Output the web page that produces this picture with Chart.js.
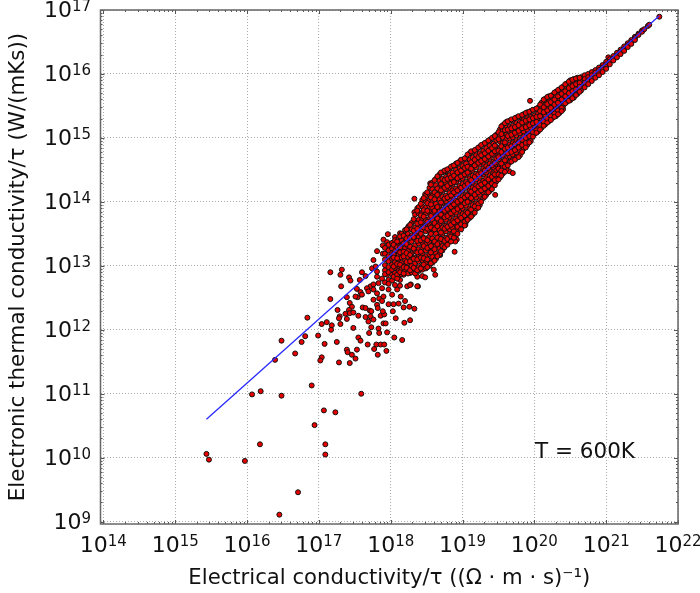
<!DOCTYPE html>
<html><head><meta charset="utf-8">
<style>html,body{margin:0;padding:0;background:#fff}canvas{display:block}</style>
<script src="https://cdn.jsdelivr.net/npm/chart.js@4"></script>
</head><body><canvas id="c" width="700" height="593"></canvas>
<script>
// All values are log10 of the plotted quantity.
const xTickExp=[14,15,16,17,18,19,20,21,22];
const yTickExp=[9,10,11,12,13,14,15,16,17];
const xTitle="Electrical conductivity/τ ((Ω · m · s)⁻¹)";
const yTitle="Electronic thermal conductivity/τ (W/(mKs))";
const note="T = 600K";
const fitLineSigmaExp=[15.435,21.74];
const fitLineKappaExp=[10.60,16.91];
// scattered points [sigma, kappa]
const sparsePoints=[
[15.435,10.06],[15.47,9.97],[15.97,9.95],[16.18,10.21],[16.07,10.99],[16.19,11.04],[16.48,10.97],[16.39,11.53],[16.67,11.63],[16.48,11.83],[16.76,11.81],[16.81,11.90],[16.84,12.19],[16.90,11.13],[17.07,10.74],[17.23,10.71],[16.94,10.51],[17.09,10.21],[17.09,10.05],[16.71,9.46],[16.45,9.11],[17.59,11.00],
[17.16,12.90],[17.32,12.94],[17.30,12.86],[17.42,12.82],[17.44,12.77],[17.60,12.90],[17.65,12.84],[17.57,12.78],[17.31,12.68],[17.16,12.48],[17.39,12.51],[17.43,12.42],[17.46,12.36],[17.42,12.31],[17.26,12.31],[17.29,12.21],[17.28,12.18],[17.37,12.25],[17.43,12.26],[17.39,12.17],[17.48,12.27],[17.55,12.22],[17.61,12.35],[17.65,12.34],[17.71,12.30],[17.65,12.20],[17.73,12.29],[17.72,12.21],[17.76,12.16],[17.69,12.13],[17.04,12.09],[17.11,12.12],[17.18,12.07],[17.17,12.00],[17.30,12.09],[17.48,12.03],[17.55,11.88],[17.58,11.83],[17.73,12.04],[17.70,11.95],[17.83,12.02],[17.84,11.95],[17.90,12.10],[17.93,12.10],[17.86,12.22],[17.91,12.24],[17.89,12.29],[18.03,12.29],[18.07,12.18],[18.19,12.11],[18.27,12.15],[17.95,11.96],[18.05,11.88],[18.16,11.84],[16.99,11.91],[17.08,11.78],[17.25,11.81],[17.68,11.77],[17.80,11.77],[17.86,11.77],[17.91,11.77],[17.77,11.70],[17.94,11.67],[17.53,11.69],[17.39,11.69],[17.40,11.65],[17.46,11.61],[17.51,11.55],[17.82,11.61],[17.04,11.57],[17.02,11.52],[17.28,11.49],[17.43,11.48],
[17.53,12.64],[17.58,12.59],[17.60,12.55],[17.54,12.51],[17.51,12.52],[17.72,12.68],[17.67,12.65],[17.76,12.71],[17.83,12.73],[17.69,12.60],[17.76,12.63],[17.88,12.65],[17.81,12.57],[17.84,12.49],[17.90,12.52],[17.97,12.63],[17.76,12.47],[17.88,12.45],[17.97,12.40],[18.04,12.40],[18.11,12.41],[17.81,12.39],[17.82,12.34],[18.18,12.35],[18.26,12.36],[18.33,12.33],[18.20,12.45],[18.14,12.52],[18.02,12.55],[18.09,12.63],[18.06,12.70],[18.23,12.68],[18.28,12.71],[18.38,12.68],[17.97,12.78],[17.88,12.80],[17.81,12.83],[17.74,12.96],[17.79,12.99],[17.76,13.09],[17.81,12.91],[17.95,12.86],[18.04,12.81],[18.13,12.78],[18.18,12.86],[18.27,12.89],[18.37,12.83],
[18.33,14.05],[17.96,13.495],[17.90,13.41],[17.95,13.37],[17.89,13.32],[17.97,13.25],[17.81,13.23],[17.89,13.19],[18.06,13.45],[18.13,13.51],[18.25,13.62],[18.37,13.90],[18.33,13.84],[18.48,14.12],[18.55,14.29],[18.89,13.22],[18.92,13.41],[18.90,13.38],[19.04,13.64],[18.69,13.17],[18.60,12.94],[18.62,12.86],[18.44,12.84],[18.48,12.82],[18.37,12.68],[18.27,12.70],[18.13,12.69],[19.455,14.11],[19.65,14.48],[19.70,14.45],[19.94,15.58],[18.90,14.57]
];
// dense band: one kappa list for each sigma column
const bandSigmaExp=[17.92,17.97,18.02,18.06,18.11,18.15,18.20,18.24,18.29,18.34,18.39,18.44,18.49,18.54,18.58,18.63,18.68,18.72,18.77,18.82,18.86,18.91,18.96,19.00,19.05,19.10,19.14,19.19,19.24,19.29,19.33,19.38,19.43,19.47,19.52,19.56,19.61,19.66,19.70,19.75,19.80,19.85,19.90,19.95,20.00,20.05,20.10,20.15,20.20,20.25,20.30,20.35,20.40,20.45,20.50,20.55,20.60,20.65,20.70,20.75,20.80,20.85,20.90,20.95,21.00,21.03,21.05,21.10,21.15,21.20,21.25,21.30,21.35,21.40,21.45,21.50,21.53,21.58,21.60,21.74];
const bandKappaExp=[
[13.28,13.19,13.10,13.01,12.93,12.87,12.74],
[13.33,13.24,13.15,13.07,12.98,12.9,12.72],
[13.36,13.27,13.2,13.11,13.02,12.94,12.86,12.77],
[13.40,13.31,13.23,13.16,13.06,12.97,12.89],
[13.43,13.35,13.26,13.18,13.09,13.0,12.92,12.84],
[13.5,13.4,13.32,13.24,13.13,13.05,12.95,12.87],
[13.56,13.46,13.37,13.28,13.18,13.09,13.0,12.92],
[13.6,13.5,13.41,13.31,13.23,13.14,13.04,12.95,12.88],
[13.67,13.57,13.47,13.38,13.28,13.19,13.1,13.0,12.9],
[13.8,13.7,13.6,13.5,13.42,13.32,13.23,13.13,13.04,12.95,12.88],
[13.92,13.82,13.72,13.63,13.53,13.45,13.35,13.26,13.17,13.07,12.98,12.92],
[14.03,13.93,13.84,13.74,13.65,13.56,13.46,13.37,13.28,13.19,13.09,13.0,12.94],
[14.1,14.01,13.91,13.82,13.72,13.63,13.54,13.43,13.34,13.24,13.15,13.05,12.96],
[14.22,14.12,14.03,13.93,13.84,13.74,13.65,13.55,13.46,13.36,13.27,13.18,13.08,13.0],
[14.3,14.2,14.1,14.0,13.91,13.81,13.72,13.62,13.52,13.43,13.33,13.23,13.14,13.05],
[14.36,14.26,14.17,14.07,13.97,13.88,13.78,13.69,13.59,13.5,13.4,13.31,13.2,13.11],
[14.43,14.33,14.23,14.14,14.04,13.94,13.85,13.75,13.65,13.56,13.46,13.37,13.27,13.18],
[14.46,14.36,14.27,14.17,14.08,13.98,13.88,13.79,13.69,13.6,13.5,13.41,13.31,13.24],
[14.48,14.39,14.3,14.2,14.1,14.01,13.92,13.82,13.72,13.63,13.54,13.44,13.35],
[14.52,14.42,14.33,14.23,14.14,14.04,13.95,13.85,13.76,13.67,13.57,13.48,13.38],
[14.56,14.46,14.36,14.27,14.18,14.08,13.99,13.89,13.8,13.7,13.6,13.51,13.43],
[14.6,14.5,14.4,14.31,14.21,14.12,14.02,13.93,13.83,13.74,13.65,13.56,13.49],
[14.63,14.53,14.44,14.35,14.25,14.16,14.06,13.97,13.87,13.78,13.68,13.59],
[14.65,14.56,14.47,14.37,14.28,14.18,14.09,14.0,13.9,13.81,13.71,13.62],
[14.69,14.6,14.5,14.41,14.31,14.22,14.12,14.03,13.94,13.85,13.76,13.69],
[14.76,14.66,14.56,14.47,14.37,14.28,14.18,14.09,14.0,13.9,13.82,13.75],
[14.78,14.69,14.6,14.5,14.41,14.31,14.22,14.13,14.04,13.95,13.86,13.8],
[14.82,14.73,14.63,14.54,14.44,14.35,14.26,14.16,14.07,13.98,13.89],
[14.86,14.76,14.67,14.58,14.48,14.39,14.3,14.2,14.11,14.02,13.95],
[14.9,14.8,14.71,14.61,14.52,14.43,14.33,14.24,14.15,14.06],
[14.93,14.84,14.74,14.65,14.56,14.46,14.37,14.28,14.19,14.11],
[14.97,14.88,14.78,14.69,14.6,14.5,14.41,14.32,14.22,14.17],
[15.01,14.91,14.82,14.73,14.63,14.54,14.45,14.36,14.27],
[15.05,14.96,14.86,14.77,14.68,14.59,14.49,14.4,14.32],
[15.13,15.03,14.94,14.84,14.75,14.66,14.56,14.47,14.38],
[15.2,15.11,15.01,14.92,14.82,14.73,14.63,14.54,14.44],
[15.25,15.16,15.06,14.97,14.87,14.78,14.68,14.59,14.51],
[15.27,15.18,15.09,14.99,14.9,14.8,14.71,14.62],
[15.28,15.19,15.1,15.01,14.92,14.83,14.74,14.66],
[15.32,15.23,15.14,15.04,14.95,14.86,14.77,14.69],
[15.33,15.25,15.16,15.07,14.98,14.89,14.8,14.73],
[15.37,15.28,15.19,15.1,15.02,14.93,14.83],
[15.4,15.31,15.22,15.13,15.05,14.97,14.89],
[15.42,15.33,15.25,15.16,15.08,15.0,14.95],
[15.44,15.35,15.27,15.19,15.12,15.06],
[15.47,15.38,15.3,15.22,15.15,15.1],
[15.55,15.46,15.38,15.3,15.22,15.16],
[15.61,15.52,15.44,15.36,15.28,15.21],
[15.65,15.56,15.47,15.39,15.32,15.26],
[15.67,15.59,15.51,15.43,15.36,15.31],
[15.72,15.64,15.56,15.48,15.41,15.34],
[15.76,15.68,15.6,15.52,15.45,15.39],
[15.8,15.72,15.64,15.57,15.5,15.45],
[15.85,15.77,15.69,15.62,15.56],
[15.9,15.82,15.74,15.66,15.59],
[15.92,15.84,15.77,15.7,15.63],
[15.94,15.87,15.8,15.74,15.69],
[15.95,15.89,15.83,15.78,15.74],
[15.98,15.92,15.86,15.79],
[16.0,15.95,15.9,15.84],
[16.03,15.98,15.93,15.89],
[16.06,16.02,15.97,15.94],
[16.1,16.06,16.01,15.98],
[16.14,16.1,16.06,16.03],
[16.19,16.15,16.11,16.08],
[16.26],
[16.23,16.19,16.15],
[16.28,16.24,16.21],
[16.33,16.29,16.26],
[16.38,16.35,16.31],
[16.43,16.39,16.36],
[16.48,16.45,16.42],
[16.53,16.5,16.47],
[16.58,16.56,16.53],
[16.63,16.61],
[16.68,16.66],
[16.7],
[16.75],
[16.77],
[16.895]
];
// second layer of the band, drawn above the first
const overlaySigmaExp=[18.04,18.09,18.13,18.18,18.22,18.27,18.32,18.37,18.42,18.46,18.51,18.56,18.61,18.65,18.70,18.75,18.79,18.84,18.88,18.93,18.98,19.03,19.07,19.12,19.17,19.22,19.26,19.31,19.36,19.41,19.45,19.50,19.54,19.59,19.63,19.68,19.73,19.78,19.83,19.88,19.93,19.98,20.03,20.08,20.13,20.18,20.23,20.28,20.33,20.38,20.43,20.48,20.53,20.58,20.63];
const overlayKappaExp=[
[13.33,13.18,13.13,12.99,12.83],
[13.38,13.29,13.12,13.03,12.86,12.8],
[13.46,13.29,13.21,13.02,12.9],
[13.47,13.35,13.22,13.15,12.98,12.88],
[13.57,13.43,13.34,13.2,13.06,12.97],
[13.64,13.44,13.3,13.17,13.07,12.93],
[13.73,13.55,13.45,13.27,13.11,12.97],
[13.86,13.66,13.58,13.39,13.21,13.1,12.93],
[13.97,13.79,13.68,13.5,13.4,13.22,13.13,12.96],
[14.06,13.87,13.77,13.6,13.43,13.31,13.12,13.02],
[14.15,13.98,13.86,13.69,13.58,13.4,13.28,13.1,12.98],
[14.27,14.07,13.96,13.78,13.6,13.5,13.31,13.21,13.04],
[14.34,14.15,14.04,13.86,13.67,13.57,13.38,13.26,13.08],
[14.4,14.21,14.11,13.92,13.74,13.62,13.44,13.34,13.15],
[14.46,14.28,14.18,13.99,13.8,13.7,13.52,13.42,13.23],
[14.49,14.34,14.22,14.05,13.86,13.76,13.58,13.39,13.29],
[14.51,14.36,14.25,14.07,13.89,13.78,13.61,13.42,13.33],
[14.55,14.38,14.29,14.1,13.92,13.82,13.64,13.46,13.38],
[14.57,14.41,14.31,14.15,13.96,13.86,13.68,13.54,13.44],
[14.61,14.46,14.37,14.18,14.0,13.89,13.71,13.61,13.5],
[14.66,14.49,14.4,14.22,14.03,13.93,13.75,13.65,13.57],
[14.68,14.53,14.43,14.25,14.07,13.98,13.79,13.69,13.63],
[14.74,14.55,14.46,14.28,14.1,14.0,13.83,13.72],
[14.79,14.62,14.52,14.34,14.16,14.06,13.88,13.77],
[14.81,14.66,14.57,14.39,14.2,14.11,13.93,13.83],
[14.85,14.7,14.61,14.43,14.24,14.15,13.97,13.91],
[14.89,14.73,14.64,14.45,14.27,14.18,14.0],
[14.92,14.76,14.67,14.49,14.3,14.21,14.08],
[14.96,14.8,14.71,14.53,14.35,14.25,14.15],
[15.0,14.84,14.75,14.57,14.39,14.29,14.2],
[15.03,14.88,14.79,14.61,14.43,14.34,14.26],
[15.09,14.98,14.8,14.7,14.52,14.43,14.35],
[15.18,15.06,14.87,14.78,14.6,14.49,14.41],
[15.23,15.12,14.93,14.83,14.65,14.55,14.47],
[15.26,15.13,15.03,14.85,14.76,14.57],
[15.29,15.15,15.05,14.87,14.78,14.63],
[15.31,15.17,15.08,14.9,14.81,14.66],
[15.34,15.2,15.11,14.93,14.85,14.7],
[15.36,15.24,15.15,14.97,14.89,14.78],
[15.39,15.27,15.17,15.0,14.92,14.85],
[15.41,15.29,15.2,15.03,14.93],
[15.44,15.31,15.23,15.09,15.02],
[15.46,15.33,15.25,15.12,15.08],
[15.52,15.42,15.34,15.2,15.13],
[15.6,15.48,15.4,15.26,15.19],
[15.64,15.53,15.43,15.3,15.24],
[15.66,15.56,15.47,15.34,15.28],
[15.71,15.6,15.52,15.38,15.33],
[15.75,15.65,15.55,15.43,15.37],
[15.79,15.69,15.6,15.47,15.42],
[15.84,15.73,15.65,15.54],
[15.88,15.78,15.7,15.58],
[15.91,15.81,15.73,15.62],
[15.93,15.84,15.76,15.67],
[15.94,15.86,15.8,15.72]
];
const pts=[];
sparsePoints.forEach(p=>pts.push({x:10**p[0],y:10**p[1]}));
bandSigmaExp.forEach((s,i)=>bandKappaExp[i].forEach(k=>pts.push({x:10**s,y:10**k})));
overlaySigmaExp.forEach((s,i)=>overlayKappaExp[i].forEach(k=>pts.push({x:10**s,y:10**k})));
const linePts=fitLineSigmaExp.map((s,i)=>({x:10**s,y:10**fitLineKappaExp[i]}));
const FONT='"DejaVu Sans"';
const decoration={id:'decoration',afterDraw(ch){
  const c=ch.ctx,a=ch.chartArea,X=ch.scales.x,Y=ch.scales.y;
  c.save();
  c.strokeStyle='#555';c.lineWidth=1;
  const seg=(x1,y1,x2,y2)=>{c.beginPath();c.moveTo(x1,y1);c.lineTo(x2,y2);c.stroke();};
  xTickExp.forEach(e=>{for(let m=1;m<10;m++){const v=m*10**e;if(v>X.max||v<X.min)continue;
    const p=Math.round(X.getPixelForValue(v))+.5,l=m===1?4:2;seg(p,a.top,p,a.top+l);seg(p,a.bottom,p,a.bottom-l);}});
  yTickExp.forEach(e=>{for(let m=1;m<10;m++){const v=m*10**e;if(v>Y.max||v<Y.min)continue;
    const p=Math.round(Y.getPixelForValue(v))+.5,l=m===1?4:2;seg(a.left,p,a.left+l,p);seg(a.right,p,a.right-l,p);}});
  c.strokeStyle='#666';c.lineWidth=1.5;c.strokeRect(a.left,a.top,a.right-a.left,a.bottom-a.top);
  c.fillStyle='#111';c.textBaseline='alphabetic';
  const label=(e,px,py,alignRight)=>{
    const b='22px '+FONT,s='15px '+FONT;
    c.font=b;const w1=c.measureText('10').width;c.font=s;const w2=c.measureText(String(e)).width;
    const x0=alignRight?px-w1-w2:px-(w1+w2)/2;
    c.textAlign='left';c.font=b;c.fillText('10',x0,py);c.font=s;c.fillText(String(e),x0+w1,py-6);
  };
  xTickExp.forEach(e=>label(e,X.getPixelForValue(10**e),552,false));
  yTickExp.forEach(e=>label(e,91,Y.getPixelForValue(10**e)+7,true));
  c.font='21.5px '+FONT;c.textAlign='left';c.fillText(note,535,457.5);
  c.restore();
}};
new Chart(document.getElementById('c'),{
  type:'scatter',
  data:{datasets:[
    {label:'Wiedemann-Franz',data:linePts,showLine:true,borderColor:'#2a2aff',borderWidth:1.3,pointRadius:0,fill:false},
    {label:'T = 600K',data:pts,backgroundColor:'#e80000',borderColor:'#111',borderWidth:1,pointRadius:2.5,pointHoverRadius:2.5}
  ]},
  plugins:[decoration],
  options:{
    responsive:false,animation:false,
    layout:{padding:{left:0,right:22,top:10,bottom:0}},
    plugins:{legend:{display:false},tooltip:{enabled:false}},
    scales:{
      x:{type:'logarithmic',min:10**13.96,max:1e22,
        afterBuildTicks(s){s.ticks=xTickExp.map(e=>({value:10**e}));},
        afterFit(s){s.height=69;},
        ticks:{display:false},
        grid:{color:'#aaa',lineWidth:1,tickLength:0,drawTicks:false},
        border:{display:false,dash:[1,2]},
        title:{display:true,text:xTitle,font:{family:FONT,size:21.2},color:'#111',padding:{top:0,bottom:2}}
      },
      y:{type:'logarithmic',min:10**8.964,max:1e17,
        afterBuildTicks(s){s.ticks=yTickExp.map(e=>({value:10**e}));},
        afterFit(s){s.width=100.5;},
        ticks:{display:false},
        grid:{color:'#aaa',lineWidth:1,tickLength:0,drawTicks:false},
        border:{display:false,dash:[1,2]},
        title:{display:true,text:yTitle,font:{family:FONT,size:21.4},color:'#111',padding:{top:6,bottom:0}}
      }
    }
  }
});
</script></body></html>
